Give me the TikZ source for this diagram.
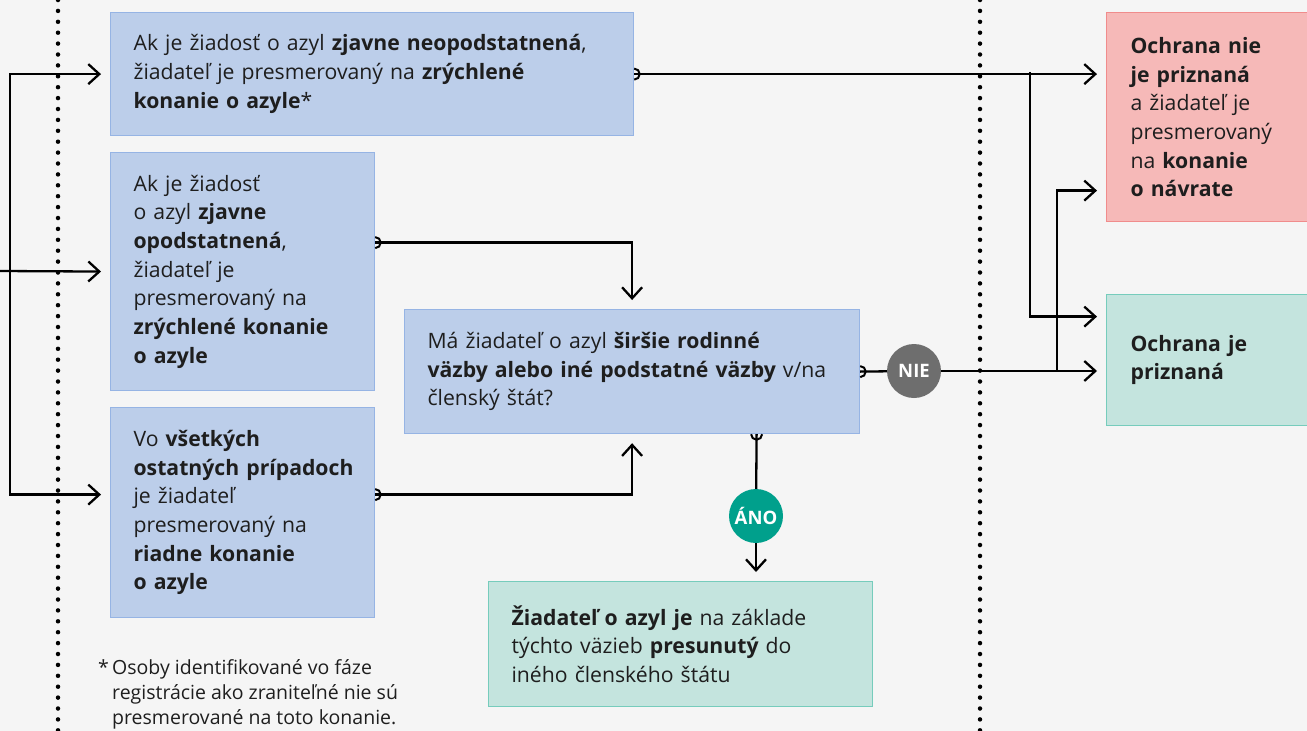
\documentclass[tikz,border=0pt]{standalone}
\usepackage{fontspec}
\setmainfont{Open Sans}
\usetikzlibrary{arrows.meta}
\definecolor{bg}{RGB}{245,245,245}
\definecolor{ink}{RGB}{30,30,30}
\definecolor{bluefill}{RGB}{188,206,234}
\definecolor{blueline}{RGB}{150,180,228}
\definecolor{tealfill}{RGB}{196,228,222}
\definecolor{tealline}{RGB}{118,204,188}
\definecolor{redfill}{RGB}{246,185,184}
\definecolor{redline}{RGB}{240,140,140}
\definecolor{niegray}{RGB}{110,110,110}
\definecolor{anoteal}{RGB}{0,160,140}
\begin{document}
\begin{tikzpicture}[x=1pt, y=-1pt,
    box/.style={draw=blueline, fill=bluefill, line width=1.2pt, text=ink, align=left,
      anchor=north west, inner xsep=23pt, inner ysep=0pt,
      font=\fontsize{21.2}{28.7}\selectfont},
    conn/.style={line width=2.3pt, draw=black},
    arr/.style={conn, -{Straight Barb[length=11pt, width=20pt]}, shorten >=9pt},
    badge/.style={circle, minimum size=54pt, inner sep=0pt, text=white,
      font=\fontsize{18.5}{18.5}\selectfont\bfseries},
    dots/.style={line width=4.5pt, line cap=round, dash pattern=on 0pt off 10.9pt},
    tap/.pic={\draw[line width=2pt] (0,-5.5) arc[start angle=-90, end angle=90, radius=5.5];}]
  \useasboundingbox[fill=bg] (0,0) rectangle (1307,731);
  \draw[dots] (58,0) -- (58,731);
  \draw[dots] (980,0) -- (980,731);

  \node[box, text width=477pt, minimum height=123pt] (A) at (110,12)
    {\mbox{Ak je žiadosť o azyl \textbf{zjavne neopodstatnená},}\\
     \mbox{žiadateľ je presmerovaný na \textbf{zrýchlené}}\\
     \textbf{konanie o azyle}*};
  \node[box, text width=218pt, minimum height=238pt] (B) at (110,152)
    {Ak je žiadosť\\ o azyl \textbf{zjavne}\\ \textbf{opodstatnená},\\ žiadateľ je\\
     \mbox{presmerovaný na}\\ \mbox{\textbf{zrýchlené konanie}}\\ \textbf{o azyle}};
  \node[box, text width=218pt, minimum height=210pt] (C) at (110,407)
    {Vo \textbf{všetkých}\\ \mbox{\textbf{ostatných prípadoch}}\\ je žiadateľ\\
     \mbox{presmerovaný na}\\ \mbox{\textbf{riadne konanie}}\\ \textbf{o azyle}};
  \node[box, text width=409pt, minimum height=124pt] (Q) at (404,309)
    {Má žiadateľ o azyl \textbf{širšie rodinné}\\
     \mbox{\textbf{väzby alebo iné podstatné väzby} v/na}\\ členský štát?};
  \node[box, draw=tealline, fill=tealfill, text width=338pt, minimum height=125pt] (T) at (488,581)
    {\mbox{\textbf{Žiadateľ o azyl je} na základe}\\ \mbox{týchto väzieb \textbf{presunutý} do}\\
     iného členského štátu};
  \node[box, draw=redline, fill=redfill, inner xsep=24pt, text width=155pt, minimum height=209pt] (R) at (1106,12)
    {\textbf{Ochrana nie}\\ \textbf{je priznaná}\\ a žiadateľ je\\ \mbox{presmerovaný}\\
     na \textbf{konanie}\\ \textbf{o návrate}};
  \node[box, draw=tealline, fill=tealfill, inner xsep=24pt, text width=155pt, minimum height=131pt] (G) at (1106,294)
    {\textbf{Ochrana je}\\ \textbf{priznaná}};

  \node[anchor=north west, inner sep=0pt, text=ink, align=left,
    font=\fontsize{19.5}{25}\selectfont] (note) at (98,659)
    {\makebox[14pt][l]{*}Osoby identifikované vo fáze\\
     \hspace*{14pt}registrácie ako zraniteľné nie sú\\
     \hspace*{14pt}presmerované na toto konanie.};

  \coordinate (src) at (0,271);
  \coordinate (fork) at (10,271);
  \draw[arr] (src) -- (B.west);
  \draw[arr] (fork) |- (A.west);
  \draw[arr] (fork) |- ([yshift=18pt]C.west);

  \draw[arr] ([yshift=29pt]B.east) -| (Q.north);
  \draw[arr] ([yshift=18pt]C.east) -| (Q.south);
  \pic at ([yshift=29pt]B.east) {tap};
  \pic at ([yshift=18pt]C.east) {tap};

  \coordinate (splitA) at (1030,72);
  \coordinate (splitQ) at (1057,371);
  \draw[arr] (A.east) -- (A.east -| R.west);
  \draw[arr] (splitA) |- ([yshift=43.5pt]G.west);
  \pic at (A.east) {tap};

  \node[badge, fill=niegray] (NIE) at (914,371) {NIE};
  \draw[conn] (Q.east) -- (NIE);
  \draw[arr] (NIE) -- (NIE -| G.west);
  \draw[arr] (splitQ) |- ([yshift=-73.5pt]R.west);
  \pic at (Q.east) {tap};

  \node[badge, fill=anoteal] (ANO) at (756,516) {ÁNO};
  \draw[conn] ([xshift=124.5pt]Q.south) -- (ANO);
  \draw[arr] (ANO) -- (ANO |- T.north);
  \pic[rotate=-90] at ([xshift=124.5pt]Q.south) {tap};
\end{tikzpicture}
\end{document}
